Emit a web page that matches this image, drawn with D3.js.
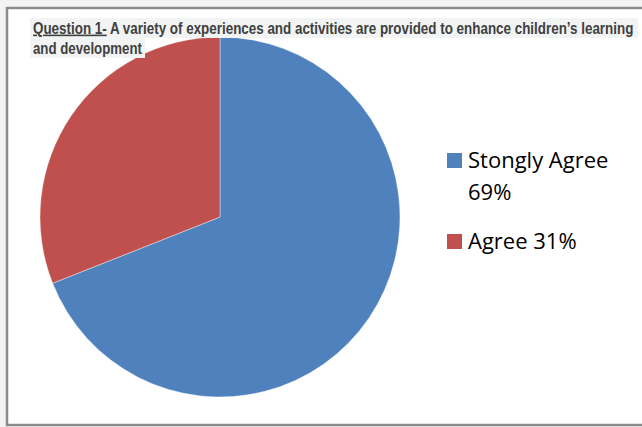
<!DOCTYPE html>
<html><head><meta charset="utf-8">
<script src="https://cdn.jsdelivr.net/npm/d3@7"></script>
<style>body{margin:0;background:#fff}svg{display:block}</style>
</head><body>
<script>
const categories = ["Stongly Agree 69%", "Agree 31%"];
const values = [69, 31];
const colors = ["#4F81BD", "#C0504D"];
const titleLines = ["A variety of experiences and activities are provided to enhance children’s learning", "and development"];
const titlePrefix = "Question 1-";

const W = 642, H = 427;
const svg = d3.select("body").append("svg").attr("width", W).attr("height", H);
svg.append("rect").attr("width", W).attr("height", H).attr("fill", "#f3f3f3");
svg.append("rect").attr("x", 7).attr("y", 8).attr("width", W).attr("height", 417).attr("fill", "#fff")
  .attr("stroke", "#8c8c8c").attr("stroke-width", 2.5);

const cx = 220, cy = 217, r = 180;
const pie = d3.pie().sort(null).value(d => d)(values);
const arc = d3.arc().innerRadius(0).outerRadius(r);
const g = svg.append("g").attr("transform", `translate(${cx},${cy})`);
g.selectAll("path").data(pie).join("path").attr("d", arc)
  .attr("fill", (d, i) => colors[i]).attr("stroke", "#fff").attr("stroke-width", 0.4);

// title with light background (condensed by horizontal scaling)
const tf = "'Liberation Sans', Arial, sans-serif";
const tg = svg.append("g");
tg.append("rect").attr("fill", "#f2f3f3").attr("x", 30).attr("y", 18).attr("width", 608).attr("height", 20);
tg.append("rect").attr("fill", "#f2f3f3").attr("x", 30).attr("y", 38).attr("width", 115).attr("height", 20);
function condensed(y, targetW, build) {
  const gg = tg.append("g");
  const t = gg.append("text").attr("x", 0).attr("y", 0).attr("font-family", tf).attr("font-weight", "bold")
    .attr("font-size", 16).attr("fill", "#404040");
  build(t);
  const w = t.node().getComputedTextLength();
  gg.attr("transform", `translate(33,${y}) scale(${targetW / w},1)`);
}
condensed(33.5, 601, t => {
  t.append("tspan").attr("text-decoration", "underline").text(titlePrefix);
  t.append("tspan").text(" " + titleLines[0]);
});
condensed(53.5, 109, t => t.text(titleLines[1]));

// legend
const lf = "'Open Sans', Lato, sans-serif";
const leg = svg.append("g");
const legY = [153, 234];
const legLines = [["Stongly Agree", "69%"], ["Agree 31%"]];
categories.forEach((c, i) => {
  leg.append("rect").attr("x", 447).attr("y", legY[i]).attr("width", 15).attr("height", 15).attr("fill", colors[i]);
  const t = leg.append("text").attr("font-family", lf).attr("font-size", 22).attr("fill", "#000");
  legLines[i].forEach((ln, j) => {
    t.append("tspan").attr("x", 468).attr("y", legY[i] + 15 + j * 32).text(ln);
  });
});
</script>
</body></html>
